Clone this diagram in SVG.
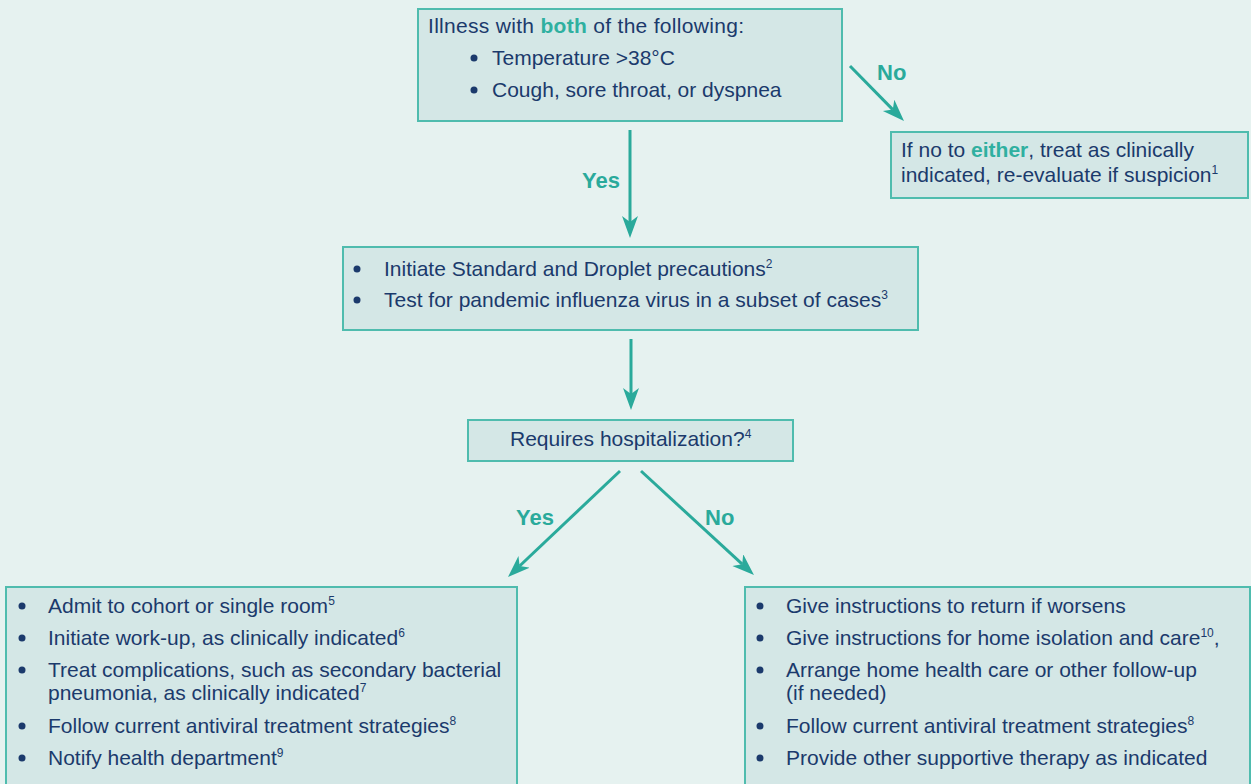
<svg xmlns="http://www.w3.org/2000/svg" width="1251" height="784" viewBox="0 0 1251 784">
<defs>
<style>
.bg{fill:#e6f2f0}
.box{fill:#d4e7e6;stroke:#4fbcae;stroke-width:2}
.t{font-family:"Liberation Sans",Arial,sans-serif;font-size:21px;fill:#1b3a6c}
.hl{fill:#2fb0a0;font-weight:bold}
.sup{font-size:12px}
.lbl{font-family:"Liberation Sans",Arial,sans-serif;font-size:22px;font-weight:bold;fill:#2aaa9b}
.bul{fill:#1b3a6c}
.conn{stroke:#2aaa9b;stroke-width:3;fill:none;marker-end:url(#ah)}
</style>
<marker id="ah" markerUnits="userSpaceOnUse" markerWidth="24" markerHeight="18" refX="6" refY="8" orient="auto">
<path d="M0,0 L22,8 L0,16 L6,8 Z" fill="#2aaa9b"/>
</marker>
</defs>
<rect class="bg" x="0" y="0" width="1251" height="784"/>

<g id="connectors">
<line class="conn" x1="630" y1="130" x2="630" y2="222"/>
<line class="conn" x1="631" y1="339" x2="631" y2="394"/>
<line class="conn" x1="850" y1="66" x2="892.8" y2="109.6"/>
<line class="conn" x1="620" y1="471" x2="519.6" y2="566"/>
<line class="conn" x1="641" y1="471" x2="742.2" y2="564.2"/>
<text class="lbl" x="582" y="188">Yes</text>
<text class="lbl" x="877" y="80">No</text>
<text class="lbl" x="516" y="525">Yes</text>
<text class="lbl" x="705" y="525">No</text>
</g>

<g id="n-illness">
<rect class="box" x="418" y="9" width="424" height="112"/>
<text class="t" x="428" y="33" letter-spacing="0.3">Illness with <tspan class="hl">both</tspan> of the following:</text>
<circle class="bul" cx="474" cy="58" r="3.5"/>
<text class="t" x="492" y="65">Temperature &gt;38°C</text>
<circle class="bul" cx="474" cy="90" r="3.5"/>
<text class="t" x="492" y="97">Cough, sore throat, or dyspnea</text>
</g>

<g id="n-no">
<rect class="box" x="891" y="132" width="357" height="66"/>
<text class="t" x="901" y="157">If no to <tspan class="hl">either</tspan>, treat as clinically</text>
<text class="t" x="901" y="182">indicated, re-evaluate if suspicion<tspan class="sup" dy="-8">1</tspan></text>
</g>

<g id="n-precautions">
<rect class="box" x="343" y="247" width="575" height="83"/>
<circle class="bul" cx="357" cy="269" r="3.5"/>
<text class="t" x="384" y="276">Initiate Standard and Droplet precautions<tspan class="sup" dy="-8">2</tspan></text>
<circle class="bul" cx="357" cy="300" r="3.5"/>
<text class="t" x="384" y="307">Test for pandemic influenza virus in a subset of cases<tspan class="sup" dy="-8">3</tspan></text>
</g>

<g id="n-hosp">
<rect class="box" x="468" y="420" width="325" height="41"/>
<text class="t" x="510" y="446">Requires hospitalization?<tspan class="sup" dy="-8">4</tspan></text>
</g>

<g id="n-yes">
<rect class="box" x="6" y="587" width="511" height="205"/>
<circle class="bul" cx="22" cy="606" r="3.5"/>
<text class="t" x="48" y="613">Admit to cohort or single room<tspan class="sup" dy="-8">5</tspan></text>
<circle class="bul" cx="22" cy="638" r="3.5"/>
<text class="t" x="48" y="645">Initiate work-up, as clinically indicated<tspan class="sup" dy="-8">6</tspan></text>
<circle class="bul" cx="22" cy="670" r="3.5"/>
<text class="t" x="48" y="677">Treat complications, such as secondary bacterial</text>
<text class="t" x="48" y="700">pneumonia, as clinically indicated<tspan class="sup" dy="-8">7</tspan></text>
<circle class="bul" cx="22" cy="726" r="3.5"/>
<text class="t" x="48" y="733">Follow current antiviral treatment strategies<tspan class="sup" dy="-8">8</tspan></text>
<circle class="bul" cx="22" cy="758" r="3.5"/>
<text class="t" x="48" y="765">Notify health department<tspan class="sup" dy="-8">9</tspan></text>
</g>

<g id="n-home">
<rect class="box" x="745" y="587" width="505" height="205"/>
<circle class="bul" cx="760" cy="606" r="3.5"/>
<text class="t" x="786" y="613">Give instructions to return if worsens</text>
<circle class="bul" cx="760" cy="638" r="3.5"/>
<text class="t" x="786" y="645">Give instructions for home isolation and care<tspan class="sup" dy="-8">10</tspan><tspan dy="8">,</tspan></text>
<circle class="bul" cx="760" cy="670" r="3.5"/>
<text class="t" x="786" y="677">Arrange home health care or other follow-up</text>
<text class="t" x="786" y="700">(if needed)</text>
<circle class="bul" cx="760" cy="726" r="3.5"/>
<text class="t" x="786" y="733">Follow current antiviral treatment strategies<tspan class="sup" dy="-8">8</tspan></text>
<circle class="bul" cx="760" cy="758" r="3.5"/>
<text class="t" x="786" y="765">Provide other supportive therapy as indicated</text>
</g>
</svg>
